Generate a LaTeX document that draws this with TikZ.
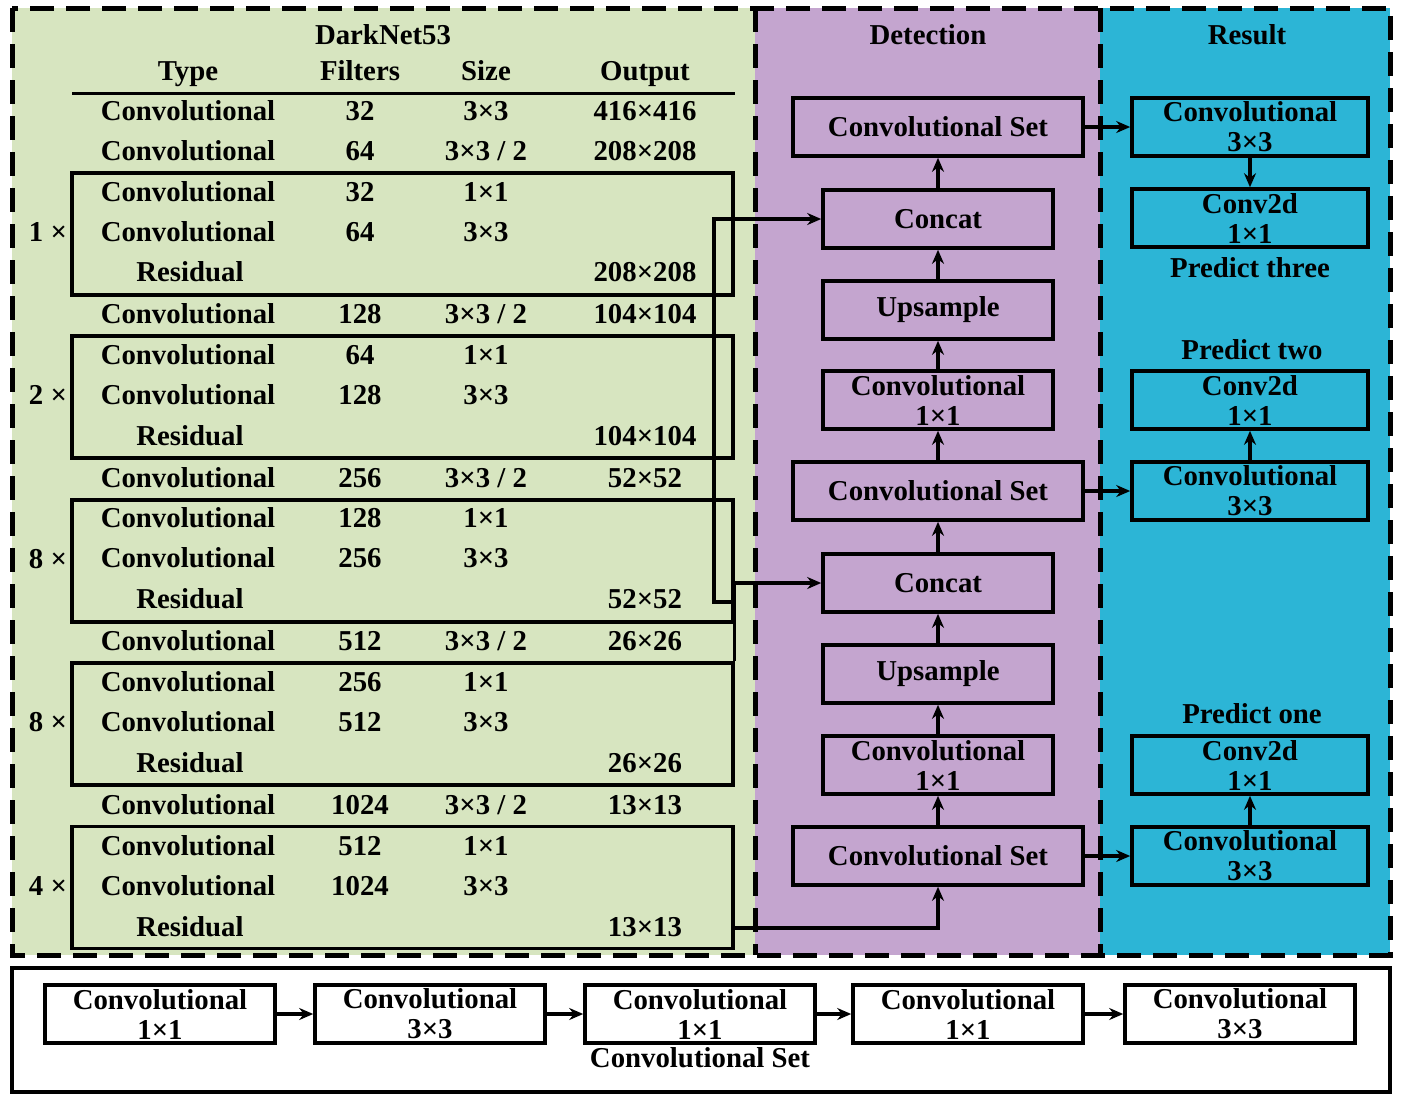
\documentclass[tikz,border=0pt]{standalone}
\usepackage{fontspec}
\setmainfont{Liberation Serif}
\usetikzlibrary{arrows.meta}
\definecolor{greenbg}{RGB}{215,229,192}
\definecolor{purplebg}{RGB}{196,165,207}
\definecolor{cyanbg}{RGB}{44,181,214}
\begin{document}
\begin{tikzpicture}[x=0.5pt,y=-0.5pt,
  every node/.style={font=\fontsize{14.4pt}{15pt}\selectfont\bfseries, inner sep=0pt},
  txt/.style={text height=10pt, text depth=3pt},
  box/.style={draw, line width=1.8pt, minimum width=115pt, minimum height=29pt, align=center},
  wbox/.style={box, minimum width=145pt},
  rbox/.style={box, minimum width=118pt},
  resid/.style={draw, line width=1.8pt, minimum width=330.5pt, minimum height=61pt},
  arr/.style={line width=1.6pt, -{Stealth[length=7pt,width=6pt]}},
  borderdash/.style={line width=2.5pt, dash pattern=on 12pt off 6pt}]
\useasboundingbox (0,0) rectangle (1405,1100);
% backgrounds
\fill[greenbg] (12,8) rectangle (755,955);
\fill[purplebg] (755,8) rectangle (1100,955);
\fill[cyanbg] (1100,8) rectangle (1390,955);
\draw[borderdash] (12,8) rectangle (1390,955);
\draw[borderdash] (755,8) -- (755,955);
\draw[borderdash] (1100,8) -- (1100,955);

% ---------------- DarkNet53 table
\node[txt] (dn) at (383,37) {DarkNet53};
\node[txt] (hType) at (188,73) {Type};
\node[txt] (hFil) at (360,73) {Filters};
\node[txt] (hSize) at (486,73) {Size};
\node[txt] (hOut) at (645,73) {Output};
\draw[line width=1.5pt] (72,93) -- (735,93);

\node[resid] (r1) at (402.5,234) {};
\node[resid] (r2) at (402.5,397) {};
\node[resid] (r3) at (402.5,561) {};
\node[resid] (r4) at (402.5,724) {};
\node[resid] (r5) at (402.5,887.5) {};
\node[txt] (m1) at (48,234) {1 ×};
\node[txt] (m2) at (48,397) {2 ×};
\node[txt] (m3) at (48,561) {8 ×};
\node[txt] (m4) at (48,724) {8 ×};
\node[txt] (m5) at (48,888) {4 ×};

\newcommand{\conv}[5]{%
  \node[txt] (ta#1) at (188,#2) {Convolutional};
  \node[txt] (tb#1) at (360,#2) {#3};
  \node[txt] (tc#1) at (486,#2) {#4};
  \if\relax\detokenize{#5}\relax\else\node[txt] (td#1) at (645,#2) {#5};\fi}
\newcommand{\resrow}[3]{%
  \node[txt] (ta#1) at (190,#2) {Residual};
  \node[txt] (td#1) at (645,#2) {#3};}
\conv{1}{113}{32}{3×3}{416×416}
\conv{2}{153}{64}{3×3 / 2}{208×208}
\conv{3}{194}{32}{1×1}{}
\conv{4}{234}{64}{3×3}{}
\resrow{5}{274}{208×208}
\conv{6}{316}{128}{3×3 / 2}{104×104}
\conv{7}{357}{64}{1×1}{}
\conv{8}{397}{128}{3×3}{}
\resrow{9}{438}{104×104}
\conv{10}{480}{256}{3×3 / 2}{52×52}
\conv{11}{520}{128}{1×1}{}
\conv{12}{560}{256}{3×3}{}
\resrow{13}{601}{52×52}
\conv{14}{643}{512}{3×3 / 2}{26×26}
\conv{15}{684}{256}{1×1}{}
\conv{16}{724}{512}{3×3}{}
\resrow{17}{765}{26×26}
\conv{18}{807}{1024}{3×3 / 2}{13×13}
\conv{19}{848}{512}{1×1}{}
\conv{20}{888}{1024}{3×3}{}
\resrow{21}{929}{13×13}

% ---------------- Detection
\node[txt] (hDet) at (928,37) {Detection};
\node[wbox] (cs3) at (938,127) {Convolutional Set};
\node[box] (cu) at (938,219) {Concat};
\node[box] (up2) at (938,310) {Upsample};
\node[box] (cb) at (938,400) {Convolutional\\1×1};
\node[wbox] (cs2) at (938,491) {Convolutional Set};
\node[box] (cl) at (938,583) {Concat};
\node[box] (up1) at (938,674) {Upsample};
\node[box] (ca) at (938,765) {Convolutional\\1×1};
\node[wbox] (cs1) at (938,856) {Convolutional Set};

\draw[arr] (cs1) -- (ca);
\draw[arr] (ca) -- (up1);
\draw[arr] (up1) -- (cl);
\draw[arr] (cl) -- (cs2);
\draw[arr] (cs2) -- (cb);
\draw[arr] (cb) -- (up2);
\draw[arr] (up2) -- (cu);
\draw[arr] (cu) -- (cs3);

% connectors from backbone
\coordinate (r5o) at (733,928);
\draw[arr] (r5o) -| (cs1.south);
\draw[arr] (r4.north east) |- (cl.west);
\coordinate (r3o) at (733,602);
\draw[arr] (r3o) -- ++(-19,0) |- (cu.west);

% ---------------- Result
\node[txt] (hRes) at (1247,37) {Result};
\node[rbox] (p3a) at (1250,127) {Convolutional\\3×3};
\node[rbox] (p3b) at (1250,218) {Conv2d\\1×1};
\node[txt] (l3) at (1250,270) {Predict three};
\node[txt] (l2) at (1252,352) {Predict two};
\node[rbox] (p2b) at (1250,400) {Conv2d\\1×1};
\node[rbox] (p2a) at (1250,491) {Convolutional\\3×3};
\node[txt] (l1) at (1252,716) {Predict one};
\node[rbox] (p1b) at (1250,765) {Conv2d\\1×1};
\node[rbox] (p1a) at (1250,856) {Convolutional\\3×3};

\draw[arr] (cs3) -- (p3a);
\draw[arr] (p3a) -- (p3b);
\draw[arr] (cs2) -- (p2a);
\draw[arr] (p2a) -- (p2b);
\draw[arr] (cs1) -- (p1a);
\draw[arr] (p1a) -- (p1b);

% ---------------- Convolutional Set legend
\node[draw, line width=2pt, minimum width=689pt, minimum height=62pt] (frame) at (701,1030) {};
\node[box] (b1) at (160,1014) {Convolutional\\1×1};
\node[box] (b2) at (430,1014) {Convolutional\\3×3};
\node[box] (b3) at (700,1014) {Convolutional\\1×1};
\node[box] (b4) at (968,1014) {Convolutional\\1×1};
\node[box] (b5) at (1240,1014) {Convolutional\\3×3};
\node[txt] (setlbl) at (700,1060) {Convolutional Set};
\draw[arr] (b1) -- (b2);
\draw[arr] (b2) -- (b3);
\draw[arr] (b3) -- (b4);
\draw[arr] (b4) -- (b5);
\end{tikzpicture}
\end{document}
